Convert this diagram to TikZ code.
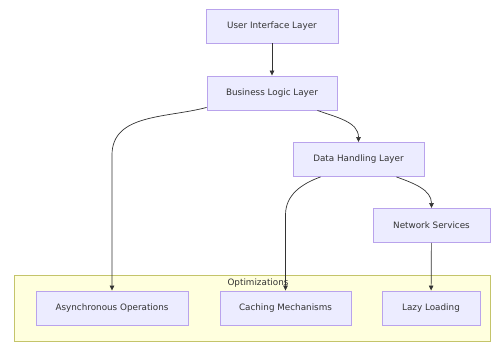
\documentclass[tikz,border=0pt]{standalone}
\usepackage{fontspec}
\setmainfont{DejaVu Sans}
\usetikzlibrary{arrows.meta}
\definecolor{boxfill}{HTML}{ECECFF}
\definecolor{boxline}{HTML}{B9A3EC}
\definecolor{groupfill}{HTML}{FFFFDE}
\definecolor{groupline}{HTML}{C4C46A}
\definecolor{edgecol}{HTML}{333333}
\begin{document}
\begin{tikzpicture}[x=1pt, y=-1pt,
layer/.style={draw=boxline, fill=boxfill, line width=.9pt, minimum height=34pt, inner sep=0pt, font=\fontsize{8.8}{10}\selectfont, text=edgecol},
group/.style={draw=groupline, fill=groupfill, line width=.9pt},
link/.style={draw=edgecol, line width=.7pt, -{Triangle[length=5pt,width=4.5pt]}}]

%%%%%% FRAME %%%%%%%%%%

\useasboundingbox (0,0) rectangle (491,342);

%%%%%% GROUP %%%%%%%%%%

\draw [group] (14,275) rectangle (490.5,341.5);
\node [font=\fontsize{8.8}{10}\selectfont, text=edgecol] (optlabel) at (258,283) {Optimizations};

%%%%%% LAYERS %%%%%%%%%%

\node [layer, minimum width=132pt] (ui) at (272,26) {User Interface Layer};
\node [layer, minimum width=130pt] (bl) at (272,93) {Business Logic Layer};
\node [layer, minimum width=131pt] (dh) at (358.5,159.5) {Data Handling Layer};
\node [layer, minimum width=117pt] (ns) at (431.5,225.5) {Network Services};

\node [layer, minimum width=152pt] (ao) at (112,308) {Asynchronous Operations};
\node [layer, minimum width=131pt] (cm) at (285.5,308) {Caching Mechanisms};
\node [layer, minimum width=98pt] (ll) at (431,308) {Lazy Loading};

%%%%%% LINKS %%%%%%%%%%

\coordinate (bend1) at (112,155);
\coordinate (bend2) at (285.5,215);

\draw [link] (ui) -- (bl);
\draw [link] ([yshift=3pt]bl.south west) to[out=195, in=90] (bend1) -- (ao.north);
\draw [link] ([xshift=-20pt]bl.south east) to[out=-20, in=90] (dh.north);
\draw [link] ([xshift=-38pt]dh.south) to[out=200, in=90] (bend2) -- (cm.north);
\draw [link] ([xshift=38pt]dh.south) to[out=-20, in=90] (ns.north);
\draw [link] (ns) -- (ll);

\end{tikzpicture}
\end{document}
